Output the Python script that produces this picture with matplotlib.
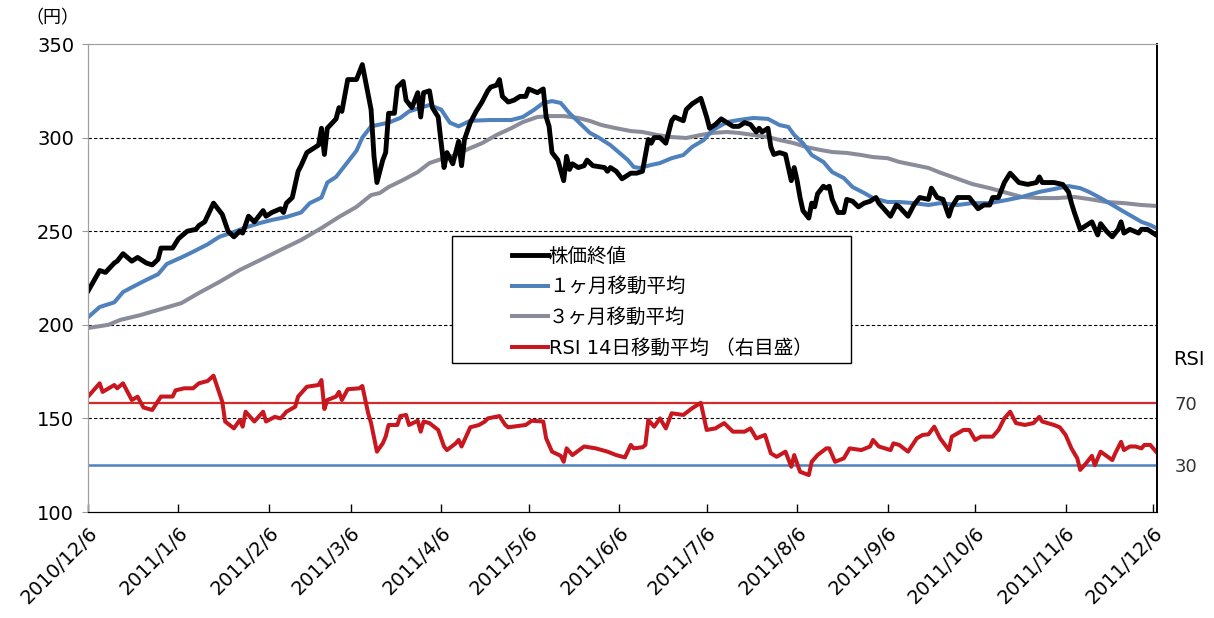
import numpy as np
import pandas as pd
import matplotlib
matplotlib.use('Agg')
import matplotlib.pyplot as plt
from matplotlib.patches import Rectangle

plt.rcParams['font.family'] = ['DejaVu Sans', 'Noto Sans CJK JP']

START = pd.Timestamp('2010-12-06')

# days since 2010-12-06 / closing price (yen)
close_day = [0, 4, 6, 9, 10, 12, 15, 17, 20, 22, 24, 25, 29, 31, 34, 37, 38, 40, 43, 46,
             48, 50, 52, 53, 55, 57, 60, 61, 63, 66, 67, 68, 70, 72, 73, 75, 79, 80, 81, 82,
             85, 86, 87, 89, 92, 94, 97, 98, 99, 101, 102, 103, 105, 106, 108, 109, 111, 113, 114, 115,
             117, 118, 120, 122, 123, 125, 127, 128, 129, 131, 133, 135, 137, 138, 140, 141, 142, 144, 146, 148,
             150, 151, 154, 155, 156, 157, 158, 159, 161, 163, 164, 165, 166, 168, 170, 171, 173, 177, 178, 179,
             181, 183, 185, 186, 188, 190, 192, 193, 194, 196, 198, 200, 201, 204, 205, 207, 210, 212, 213, 215,
             217, 219, 221, 223, 225, 227, 229, 230, 231, 233, 234, 235, 237, 239, 240, 241, 242, 243, 244, 245,
             247, 248, 249, 250, 252, 253, 254, 255, 257, 259, 260, 262, 264, 266, 268, 270, 271, 275, 277, 278,
             281, 283, 285, 288, 289, 291, 293, 295, 296, 298, 302, 305, 307, 309, 310, 312, 314, 316, 319, 322,
             325, 326, 327, 330, 331, 334, 336, 337, 338, 340, 342, 344, 346, 347, 349, 351, 353, 354, 355, 357,
             360, 361, 363, 366]
close_val = [218, 229, 228, 233, 234, 238, 234, 236, 233, 232, 235, 241, 241, 246, 250, 251, 253, 255, 265, 259,
             250, 247, 250, 249, 258, 255, 261, 258, 260, 262, 260, 265, 268, 282, 285, 292, 296, 305, 291, 305,
             310, 316, 314, 331, 331, 339, 315, 290, 276, 288, 292, 313, 313, 327, 330, 320, 316, 324, 311, 324,
             325, 316, 311, 284, 292, 286, 298, 285, 299, 308, 314, 319, 325, 327, 328, 331, 322, 319, 320, 322,
             322, 326, 324, 325, 326, 311, 306, 292, 288, 277, 290, 283, 286, 284, 285, 288, 285, 284, 282, 284,
             282, 278, 280, 281, 281, 282, 299, 297, 300, 300, 297, 309, 311, 309, 315, 318, 321, 311, 305, 307,
             310, 308, 306, 306, 308, 307, 303, 305, 303, 305, 295, 291, 292, 291, 284, 277, 284, 277, 268, 261,
             257, 265, 263, 270, 274, 273, 274, 267, 260, 260, 267, 266, 263, 265, 266, 268, 265, 258, 264, 263,
             258, 264, 268, 267, 273, 268, 267, 258, 263, 268, 268, 262, 264, 264, 268, 268, 276, 281, 276, 275,
             276, 279, 276, 276, 276, 275, 271, 265, 260, 251, 253, 255, 248, 254, 250, 247, 251, 255, 249, 251,
             249, 251, 251, 248]

ma1_day = [0, 4, 9, 12, 15, 20, 24, 27, 32, 36, 41, 45, 50, 54, 59, 63, 68, 73, 76, 80,
           82, 85, 89, 92, 94, 97, 100, 103, 107, 110, 114, 117, 121, 124, 127, 131, 138, 145, 149, 153,
           156, 159, 162, 165, 169, 172, 175, 179, 182, 185, 187, 189, 193, 196, 200, 204, 207, 211, 214, 219,
           223, 228, 233, 237, 240, 242, 245, 248, 252, 255, 259, 262, 266, 269, 274, 278, 283, 288, 292, 298,
           303, 309, 315, 320, 326, 331, 336, 340, 343, 347, 350, 354, 357, 361, 364, 366]
ma1_val = [204, 209.5, 212, 217.5, 220, 224, 227, 232.5, 236, 239, 243, 247, 249.6, 252, 254.4, 256, 257.6, 260, 265, 268,
           276, 279, 287, 293, 300, 306, 307, 308, 310.5, 314, 316, 317.4, 315, 308, 306, 309, 309.4, 309.4, 311, 315,
           318.5, 319.5, 318.5, 313, 307, 302.5, 300, 296, 292, 288, 284.3, 283.8, 285.4, 286.4, 289, 290.7, 295, 298.7, 304, 308.3,
           309.4, 310.5, 310, 306.7, 305.7, 301.4, 297, 290.7, 287, 281.6, 278.4, 273.6, 270.4, 267.7, 265.6, 265.6, 265, 264, 265, 264,
           265, 265, 266.7, 268.3, 271, 272.5, 274.1, 273, 271, 267.7, 265, 261.3, 258.6, 255, 253.3, 251.7]

ma3_day = [0, 7, 11, 18, 25, 32, 38, 45, 52, 59, 66, 73, 80, 86, 92, 97, 100, 103, 108, 113,
           117, 122, 126, 131, 135, 140, 145, 149, 154, 158, 163, 168, 172, 176, 181, 186, 190, 195, 200, 205,
           210, 214, 219, 223, 228, 233, 237, 242, 246, 251, 255, 260, 265, 269, 274, 278, 283, 288, 292, 298,
           303, 309, 315, 320, 326, 332, 338, 343, 349, 355, 361, 366]
ma3_val = [198.3, 200, 202.6, 205.2, 208.4, 211.6, 217, 222.9, 229.3, 234.6, 240, 245.3, 251.7, 257.6, 263, 269.3, 270.4, 273.6, 277.4, 281.6,
           286.4, 289, 290.7, 294.4, 297, 301.4, 305, 308.3, 311, 311.5, 311.5, 310.5, 308.9, 306.7, 305, 303.5, 303, 301.4, 300.3, 299.8,
           301.4, 302.5, 303, 302.5, 301.4, 300.3, 298.7, 297, 295, 293.4, 292.3, 291.8, 290.7, 289.6, 289, 287, 285.4, 283.8, 281.3, 278,
           275.2, 273, 270.4, 268.3, 267.7, 267.7, 268.3, 267.2, 265.6, 265, 264, 263.5]

# RSI (14-day moving average), right scale
rsi_day = [0, 4, 5, 9, 10, 12, 15, 17, 19, 22, 25, 29, 30, 33, 36, 38, 41, 43, 46, 47,
           50, 52, 53, 54, 57, 60, 61, 64, 66, 68, 71, 72, 75, 79, 80, 81, 82, 85, 86, 87,
           89, 93, 94, 96, 97, 99, 101, 102, 103, 106, 107, 109, 110, 113, 114, 115, 117, 120, 122, 123,
           126, 127, 128, 131, 134, 136, 137, 141, 143, 144, 150, 152, 156, 157, 159, 162, 163, 164, 166, 170,
           174, 178, 181, 184, 186, 187, 190, 191, 192, 194, 196, 198, 200, 204, 207, 210, 212, 215, 218, 221,
           225, 227, 229, 232, 234, 236, 239, 241, 242, 244, 247, 248, 250, 253, 254, 256, 259, 261, 265, 268,
           269, 271, 275, 276, 278, 281, 284, 286, 288, 290, 292, 295, 296, 300, 302, 304, 306, 310, 312, 314,
           316, 318, 321, 324, 326, 327, 331, 333, 335, 337, 339, 340, 342, 344, 345, 347, 351, 352, 354, 355,
           357, 359, 361, 362, 364, 366]
rsi_val = [74, 82.5, 77, 81.4, 79.3, 82.5, 71.8, 73.9, 67, 65.4, 74, 74, 78, 79.3, 79.3, 82.5, 84, 87.4, 70.7, 58,
           53.6, 59, 54.7, 64.3, 58, 64.3, 58, 61, 60, 64.3, 67.5, 74, 80.3, 81.4, 84.6, 66, 71.8, 74, 77, 71.8,
           78.7, 79.3, 80.8, 63.3, 57, 38.7, 44, 48.3, 55.8, 55.8, 61.5, 62.2, 55.8, 58.5, 51.5, 58, 57, 52.6, 42, 39.7,
           44, 46.2, 42, 54.3, 55.8, 58, 60, 61.5, 55.8, 54.3, 55.8, 58.5, 58, 47.2, 38.7, 36, 32.2, 40.8, 36.5, 42,
           40.8, 38.7, 36.5, 35, 43, 40.8, 41.5, 43, 59, 54.7, 60, 53.6, 63.3, 62.2, 66.5, 70, 52.6, 53.6, 57, 51.5,
           51.5, 53.6, 47.2, 49.4, 37.6, 35.4, 38.7, 29, 36.5, 25.8, 23.7, 32.2, 36.5, 40.8, 40.8, 32.2, 34.4, 40.8, 39.7, 42,
           46.2, 42, 39.7, 44, 43, 38.7, 47.2, 49.4, 49.8, 54.7, 47.2, 39.7, 48.3, 52.6, 52.6, 46.2, 48.3, 48.3, 52.6, 60,
           64.3, 57, 55.8, 57, 61, 58, 55.8, 54.3, 49.4, 40.8, 34.4, 27, 31.2, 36, 30, 38.7, 33.3, 37.6, 45, 39.7,
           42, 42, 40.8, 43, 43, 38.7]

rsi_levels = [70, 30]
tick_dates = ['2010-12-06', '2011-01-06', '2011-02-06', '2011-03-06', '2011-04-06', '2011-05-06', '2011-06-06',
              '2011-07-06', '2011-08-06', '2011-09-06', '2011-10-06', '2011-11-06', '2011-12-06']
price_ticks = [100, 150, 200, 250, 300, 350]

labels = ['株価終値', '１ヶ月移動平均', '３ヶ月移動平均', 'RSI 14日移動平均 （右目盛）']


def to_dates(days):
    return START + pd.to_timedelta(days, unit='D')


fig = plt.figure(figsize=(12.14, 6.18), dpi=100)
ax = fig.add_axes([0.0725, 0.1715, 0.8805, 0.7573])
ax2 = ax.twinx()

ax.set_ylim(100, 350)
ax2.set_ylim(0, 300)
ax.set_xlim(START, START + pd.Timedelta(days=366.3))

ax.set_yticks(price_ticks)
for v in price_ticks[1:-1]:
    ax.axhline(v, color='black', lw=0.8, ls=(0, (3, 2)), zorder=1)

l1, = ax.plot(to_dates(close_day), close_val, color='black', lw=3.5, zorder=5)
l2, = ax.plot(to_dates(ma1_day), ma1_val, color='#4f81bd', lw=2.9, zorder=4)
l3, = ax.plot(to_dates(ma3_day), ma3_val, color='#8a8c99', lw=2.9, zorder=3)

ax2.axhline(rsi_levels[0], color='#d42a2a', lw=1.6)
ax2.axhline(rsi_levels[1], color='#4f81bd', lw=1.8)
l4, = ax2.plot(to_dates(rsi_day), rsi_val, color='#c8171e', lw=2.9)

tdates = pd.to_datetime(tick_dates)
ax.set_xticks(tdates)
ax.set_xticklabels([f'{d.year}/{d.month}/{d.day}' for d in tdates],
                   rotation=45, ha='right', va='top', rotation_mode='anchor', fontsize=14)
ax.tick_params(axis='x', direction='in', length=6, width=1, pad=8)
ax.tick_params(axis='y', direction='out', length=4, color='#999999', labelsize=14, pad=6)

ax2.set_yticks(rsi_levels)
ax2.set_yticklabels([str(v) for v in rsi_levels], fontsize=13, color='#333333')
ax2.tick_params(axis='y', length=0, pad=13)

for a in (ax, ax2):
    a.spines['top'].set_color('#a0a0a0')
    a.spines['left'].set_color('#a0a0a0')
    a.spines['bottom'].set_color('black')
    a.spines['right'].set_color('black')
    a.spines['right'].set_linewidth(1.2)

fig.text(0.043, 0.97, '（円）', fontsize=13, ha='center', va='center',
         family=['Noto Sans CJK JP', 'DejaVu Sans'])
fig.text(0.9795, 0.418, 'RSI', fontsize=14, ha='center', va='center')

# legend box drawn separately so the inner padding matches the original
box = Rectangle((0.3405, 0.318), 0.3732, 0.2717, transform=ax2.transAxes,
                facecolor='white', edgecolor='black', lw=1.0, zorder=10)
ax2.add_patch(box)
leg = ax2.legend([l1, l2, l3, l4], labels, loc='upper left',
                 bbox_to_anchor=(0.3966, 0.567), fontsize=14, frameon=False,
                 handlelength=1.85, borderpad=0, labelspacing=0.6,
                 handletextpad=0.05, borderaxespad=0)
leg.set_zorder(11)

fig.savefig('out.png', dpi=100)
